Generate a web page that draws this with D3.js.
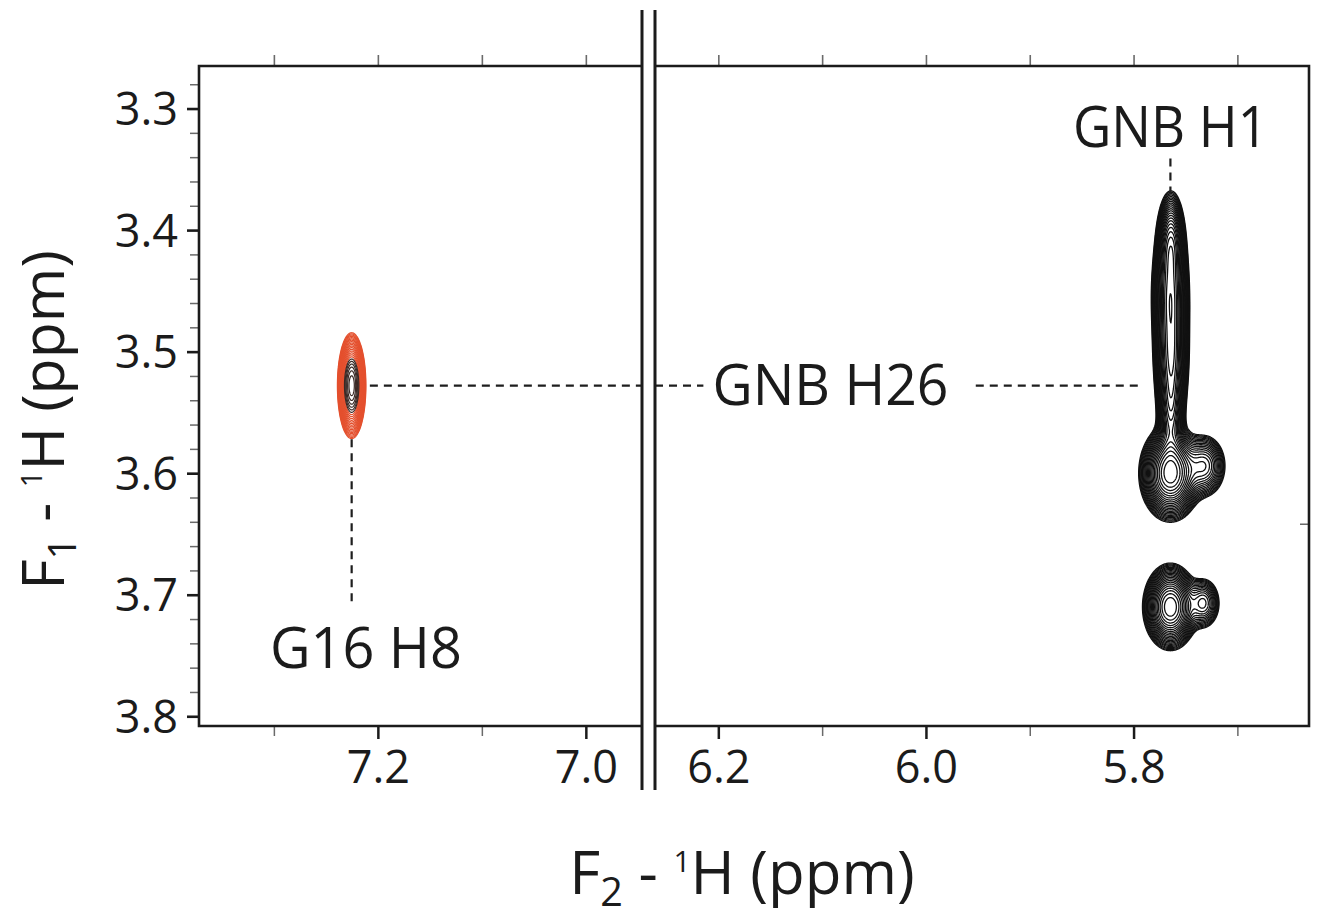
<!DOCTYPE html>
<html><head><meta charset="utf-8">
<script src="https://cdn.jsdelivr.net/npm/d3@7"></script>
<style>
body{margin:0;background:#fff}
svg{display:block}
text{font-family:"Open Sans",sans-serif;fill:#1b1b1b}
</style>
</head><body>
<svg id="c" width="1327" height="917"></svg>
<script>
// ---------- data ----------
const xLeftDomain = [7.372, 6.946];
const xRightDomain = [6.261, 5.631];
const yDomain = [3.265, 3.808];

const xTicksLeft = [7.3, 7.2, 7.1, 7.0];
const xLabelsLeft = [7.2, 7.0];
const xTicksRight = [6.2, 6.1, 6.0, 5.9, 5.8, 5.7];
const xLabelsRight = [6.2, 6.0, 5.8];
const xTicksTopLeft = [7.3, 7.2, 7.1, 7.0];
const xTicksTopRight = [6.2, 6.1, 6.0, 5.9, 5.8, 5.7];
const yMinorTicks = [3.28,3.30,3.32,3.34,3.36,3.38,3.40,3.42,3.44,3.46,3.48,3.50,3.52,3.54,3.56,3.58,3.60,3.62,3.64,3.66,3.68,3.70,3.72,3.74,3.76,3.78,3.80];
const yLabels = [3.3, 3.4, 3.5, 3.6, 3.7, 3.8];
const rightTicks = [3.642];

// peaks: [x ppm, y ppm, sigma x, sigma y, amplitude]
const redPeaks = [
  [7.2252, 3.528, 0.0056, 0.0178, 1.0]
];
const blackPeaks = [
  [5.7640, 3.410, 0.0062, 0.019, 0.55],
  [5.7645, 3.452, 0.0078, 0.026, 0.75],
  [5.7638, 3.503, 0.0074, 0.026, 0.70],
  [5.7640, 3.548, 0.0060, 0.022, 0.45],
  [5.7645, 3.600, 0.0125, 0.0165, 1.00],
  [5.7315, 3.594, 0.0100, 0.0125, 0.34],
  [5.7645, 3.710, 0.0112, 0.0150, 0.90],
  [5.7325, 3.707, 0.0080, 0.0105, 0.28]
];
const contourLevels = [0.05,0.057,0.065,0.074,0.085,0.097,0.11,0.126,0.144,0.164,0.187,0.213,0.243,0.277,0.316,0.36,0.41,0.468,0.533,0.608,0.693,0.79,0.9];

// annotations
const labels = [
  {text:"GNB H1", panel:"R", x:5.7645, y:3.332, w:195},
  {text:"GNB H26", panel:"R", x:6.092, y:3.544, w:236},
  {text:"G16 H8", panel:"L", x:7.2115, y:3.7605, w:192}
];
const dashLines = [
  {panel:"L", x1:7.2077, y1:3.528, x2:6.946, y2:3.528},
  {panel:"R", x1:6.261, y1:3.528, x2:6.2144, y2:3.528},
  {panel:"R", x1:5.952, y1:3.528, x2:5.793, y2:3.528},
  {panel:"L", x1:7.2252, y1:3.572, x2:7.2252, y2:3.708},
  {panel:"R", x1:5.7645, y1:3.341, x2:5.7645, y2:3.374}
];

// ---------- layout ----------
const svg = d3.select("#c");
const L = {x0:199, x1:642}, R = {x0:655, x1:1309};
const yTop = 66, yBot = 726;
const xL = d3.scaleLinear().domain(xLeftDomain).range([L.x0, L.x1]);
const xR = d3.scaleLinear().domain(xRightDomain).range([R.x0, R.x1]);
const y = d3.scaleLinear().domain(yDomain).range([yTop, yBot]);
const ink = "#1b1b1b", tickGray = "#6a6a6a";

const defs = svg.append("defs");
defs.append("clipPath").attr("id","clipL").append("rect")
  .attr("x",L.x0).attr("y",yTop).attr("width",L.x1-L.x0).attr("height",yBot-yTop);
defs.append("clipPath").attr("id","clipR").append("rect")
  .attr("x",R.x0).attr("y",yTop).attr("width",R.x1-R.x0).attr("height",yBot-yTop);

// ---------- contours ----------
function drawContours(g, xs, peaks, xr, yr, step, colorFn, sw){
  const nx = Math.round((xr[1]-xr[0])/step), ny = Math.round((yr[1]-yr[0])/step);
  const vals = new Float64Array(nx*ny);
  for(let j=0;j<ny;j++){
    const py = yr[0]+j*step;
    for(let i=0;i<nx;i++){
      const px = xr[0]+i*step;
      let v=0;
      for(const p of peaks){
        const dx=(px-p[0])/p[2], dy=(py-p[1])/p[3];
        v += p[4]*Math.exp(-0.5*(dx*dx+dy*dy));
      }
      vals[j*nx+i]=v;
    }
  }
  const cs = d3.contours().size([nx,ny]).smooth(true).thresholds(contourLevels)(vals);
  const proj = d3.geoTransform({point(gx,gy){
    this.stream.point(xs(xr[0]+(gx-0.5)*step), y(yr[0]+(gy-0.5)*step));
  }});
  const path = d3.geoPath(proj);
  g.selectAll(null).data(cs).join("path")
    .attr("d", path)
    .attr("fill","none")
    .attr("stroke", (d,i)=>colorFn(i))
    .attr("stroke-width",sw)
    .attr("stroke-linejoin","round");
}

const gL = svg.append("g").attr("clip-path","url(#clipL)");
const gR = svg.append("g").attr("clip-path","url(#clipR)");

drawContours(gL, xL, redPeaks, [7.18,7.27], [3.44,3.62], 0.0004,
  i => i >= 17 ? "#3a2a26" : "#e4502e", 1.2);
drawContours(gR, xR, blackPeaks, [5.68,5.85], [3.33,3.79], 0.0006,
  i => "#111", 1.3);

// ---------- dashed guide lines ----------
dashLines.forEach(d=>{
  const xs = d.panel==="L"?xL:xR, g = d.panel==="L"?gL:gR;
  g.append("line")
    .attr("x1",xs(d.x1)).attr("x2",xs(d.x2))
    .attr("y1",y(d.y1)).attr("y2",y(d.y2))
    .attr("stroke","#1e1e1e").attr("stroke-width",2.2)
    .attr("stroke-dasharray","8,6");
});

// ---------- axes ----------
function bottomAxis(xs, ticks, lbls){
  const isL = d => lbls.some(l=>Math.abs(l-d)<1e-9);
  const g = svg.append("g").attr("transform",`translate(0,${yBot})`)
    .call(d3.axisBottom(xs).tickValues(ticks).tickSize(10)
      .tickFormat(d=> isL(d) ? d.toFixed(1) : ""));
  g.select(".domain").remove();
  g.selectAll(".tick line")
    .attr("stroke", d=> isL(d) ? ink : tickGray)
    .attr("stroke-width", d=> isL(d) ? 2.5 : 1.5)
    .attr("y2", d=> isL(d) ? 13 : 10);
  g.selectAll(".tick text").attr("y",57).attr("dy",0)
    .attr("font-size",45).attr("font-family",'"Open Sans",sans-serif').attr("fill",ink);
}
bottomAxis(xL, xTicksLeft, xLabelsLeft);
bottomAxis(xR, xTicksRight, xLabelsRight);

function topAxis(xs, ticks){
  const g = svg.append("g").attr("transform",`translate(0,${yTop})`)
    .call(d3.axisTop(xs).tickValues(ticks).tickSize(11).tickFormat(""));
  g.select(".domain").remove();
  g.selectAll(".tick line").attr("stroke",tickGray).attr("stroke-width",1.6);
}
topAxis(xL, xTicksTopLeft);
topAxis(xR, xTicksTopRight);

const isYMajor = d => yLabels.some(l=>Math.abs(l-d)<1e-9);
const gy = svg.append("g").attr("transform",`translate(${L.x0},0)`)
  .call(d3.axisLeft(y).tickValues(yMinorTicks).tickSize(9)
    .tickFormat(d=> isYMajor(d) ? d.toFixed(1) : ""));
gy.select(".domain").remove();
gy.selectAll(".tick line")
  .attr("stroke", d=> isYMajor(d) ? ink : tickGray)
  .attr("stroke-width", d=> isYMajor(d) ? 2.6 : 1.5)
  .attr("x2", d=> isYMajor(d) ? -12 : -9);
gy.selectAll(".tick text").attr("x",-21).attr("dy","0.36em")
  .attr("font-size",45).attr("font-family",'"Open Sans",sans-serif').attr("fill",ink);

// right-side inner tick
svg.selectAll(null).data(rightTicks).join("line")
  .attr("x1",R.x1).attr("x2",R.x1-9).attr("y1",d=>y(d)).attr("y2",d=>y(d))
  .attr("stroke",tickGray).attr("stroke-width",1.5);

// ---------- frame ----------
const frame = svg.append("g").attr("stroke",ink).attr("stroke-width",2.6).attr("fill","none");
frame.append("path").attr("d",`M${L.x1},${yTop}H${L.x0}V${yBot}H${L.x1}`);
frame.append("path").attr("d",`M${R.x0},${yTop}H${R.x1}V${yBot}H${R.x0}`);
// axis break double line
[L.x1, R.x0].forEach(x=>{
  svg.append("line").attr("x1",x).attr("x2",x).attr("y1",10).attr("y2",790)
    .attr("stroke",ink).attr("stroke-width",3);
});

// ---------- annotation labels ----------
labels.forEach(d=>{
  const xs = d.panel==="L"?xL:xR;
  svg.append("text").attr("x",xs(d.x)).attr("y",y(d.y))
    .attr("text-anchor","middle").attr("font-size",57)
    .attr("textLength",d.w).attr("lengthAdjust","spacingAndGlyphs")
    .text(d.text);
});

// ---------- axis titles ----------
function title(g, sub, size){
  const t = g.append("text").attr("font-size",size).attr("text-anchor","middle");
  t.append("tspan").text("F");
  t.append("tspan").attr("font-size",size*0.66).attr("baseline-shift","-12").text(sub);
  t.append("tspan").text(" - ");
  t.append("tspan").attr("font-size",size*0.5).attr("baseline-shift","22").text("1");
  t.append("tspan").text("H (ppm)");
  return t;
}
title(svg.append("g").attr("transform","translate(742,894)"), "2", 60);
title(svg.append("g").attr("transform","translate(64,420) rotate(-90)"), "1", 59);
</script>
</body></html>
